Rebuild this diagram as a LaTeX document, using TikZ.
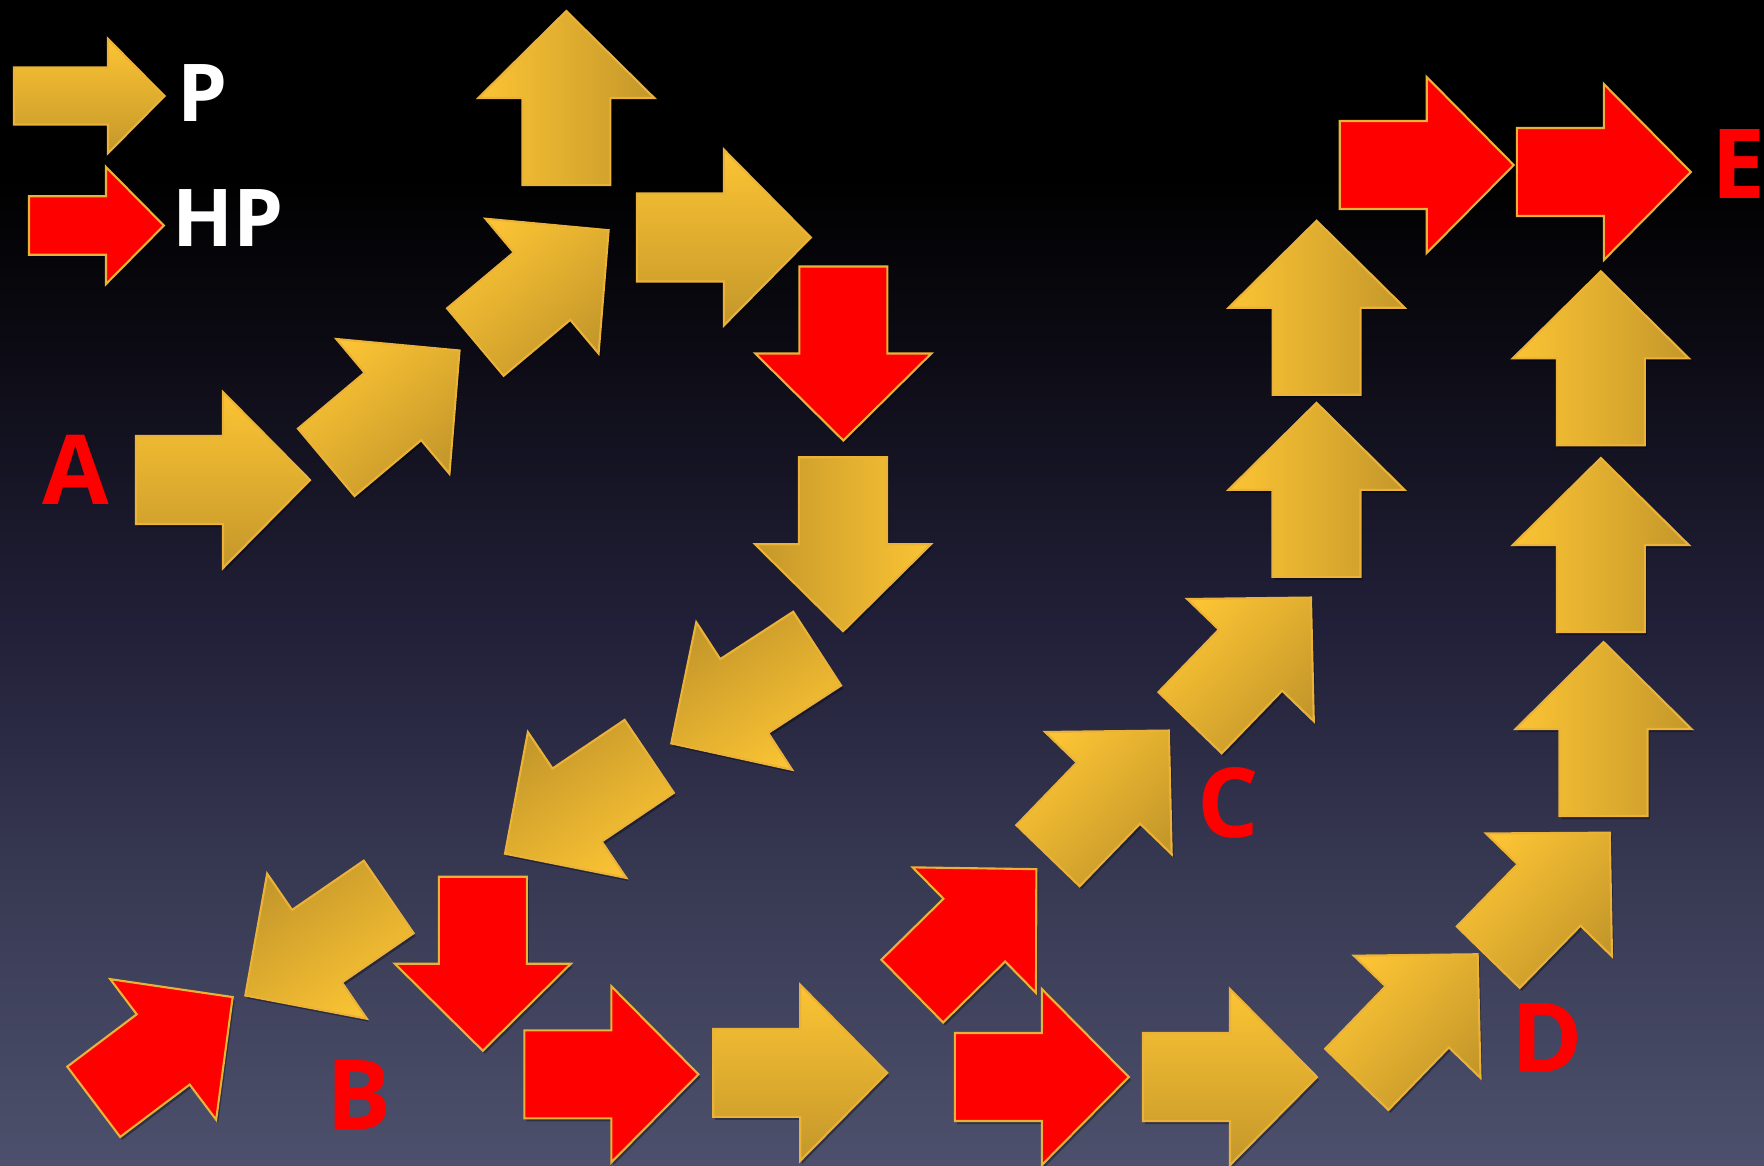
\documentclass[tikz,border=0pt]{standalone}
\usepackage{fontspec}
\newfontfamily\slidefont{Open Sans}
\usepackage{xcolor}
\definecolor{arGoldLight}{RGB}{252,196,52}
\definecolor{arGoldDark}{RGB}{196,151,42}
\definecolor{arGoldEdge}{RGB}{234,178,56}
\definecolor{arRed}{RGB}{255,0,0}
\definecolor{bgBottom}{RGB}{77,80,108}
\definecolor{bgLow}{RGB}{60,62,88}
\definecolor{bgMid}{RGB}{35,33,58}
\definecolor{bgDark}{RGB}{12,11,20}
\usepackage{tikz}
\usetikzlibrary{calc}

% slide background, black at the top
\pgfdeclareverticalshading{slidebg}{100bp}{color(0bp)=(bgBottom); color(25bp)=(bgBottom);
  color(35bp)=(bgLow); color(47.5bp)=(bgMid); color(60bp)=(bgDark); color(67.5bp)=(black);
  color(100bp)=(black)}

\tikzset{arrow tail/.store in=\arrtail, arrow tail=.87}

% #1 extra options, #2 style, #3 head base, #4 direction
\newcommand{\blockarrow}[4][]{%
  \begin{scope}[shift={#3},#1]
    \def\arrdir{#4}%
    \fill[black,opacity=.35,shift={(.02,-.03)},rotate=#4]
      (-\arrtail,-.44) -- (0,-.44) -- (0,-.88) -- (.87,0) -- (0,.88) -- (0,.44) -- (-\arrtail,.44) -- cycle;
    \path[#2,rotate=#4]
      (-\arrtail,-.44) -- (0,-.44) -- (0,-.88) -- (.87,0) -- (0,.88) -- (0,.44) -- (-\arrtail,.44) -- cycle;
  \end{scope}}

\begin{document}
\begin{tikzpicture}[
  goldarrow/.style={top color=arGoldLight,bottom color=arGoldDark,shading angle=\arrdir,
    draw=arGoldEdge,line width=.6pt},
  redarrow/.style={fill=arRed,draw=arGoldEdge,line width=.6pt},
  letter/.style={text=arRed,inner sep=0pt,font=\slidefont\bfseries\fontsize{27.5}{30}\selectfont},
  legendlbl/.style={text=white,inner sep=0pt,font=\slidefont\bfseries\fontsize{22.7}{26}\selectfont}]
  \useasboundingbox (0,0) rectangle (17.64,-11.65);
  \shade[shading=slidebg] (0,0) rectangle (17.64,-11.65);

  % legend
  \blockarrow[scale=.65,arrow tail=1.446]{goldarrow}{(1.08,-0.96)}{0}
  \blockarrow[scale=.665,arrow tail=1.158]{redarrow}{(1.06,-2.255)}{0}
  \node[legendlbl] (lblp) at (2.025,-0.935) {P};
  \node[legendlbl] (lblhp) at (2.28,-2.185) {HP};

  % from A round the top and down to B
  \blockarrow{goldarrow}{(2.23,-4.80)}{0}
  \blockarrow{goldarrow}{(3.929,-4.064)}{40}
  \blockarrow{goldarrow}{(5.42,-2.861)}{40}
  \blockarrow{goldarrow}{(5.663,-0.98)}{90}
  \blockarrow{goldarrow}{(7.238,-2.375)}{0}
  \blockarrow{redarrow}{(8.433,-3.535)}{-90}
  \blockarrow{goldarrow}{(8.43,-5.442)}{-90}
  \blockarrow{goldarrow}{(7.442,-6.96)}{213}
  \blockarrow{goldarrow}{(5.771,-8.05)}{214}
  \blockarrow{goldarrow}{(3.17,-9.462)}{214.5}
  \blockarrow{redarrow}{(1.632,-10.494)}{37}

  % bottom row
  \blockarrow{redarrow}{(4.828,-9.637)}{-90}
  \blockarrow{redarrow}{(6.114,-10.743)}{0}
  \blockarrow{goldarrow}{(8.002,-10.728)}{0}
  \blockarrow{redarrow}{(9.743,-9.301)}{44.5}
  \blockarrow{redarrow}{(10.418,-10.77)}{0}
  \blockarrow{goldarrow}{(12.30,-10.77)}{0}
  \blockarrow{goldarrow}{(14.172,-10.168)}{46}

  % up through C
  \blockarrow{goldarrow}{(11.084,-7.931)}{46}
  \blockarrow{goldarrow}{(12.505,-6.601)}{46}
  \blockarrow{goldarrow}{(13.165,-4.898)}{90}
  \blockarrow{goldarrow}{(13.166,-3.077)}{90}

  % up through D
  \blockarrow{goldarrow}{(15.49,-8.949)}{45.7}
  \blockarrow{goldarrow}{(16.035,-7.29)}{90}
  \blockarrow{goldarrow}{(16.008,-5.45)}{90}
  \blockarrow{goldarrow}{(16.008,-3.583)}{90}

  % on to E
  \blockarrow{redarrow}{(14.267,-1.65)}{0}
  \blockarrow{redarrow}{(16.038,-1.72)}{0}

  \node[letter] (ptA) at (0.759,-4.70) {A};
  \node[letter] (ptB) at (3.588,-10.947) {B};
  \node[letter] (ptC) at (12.278,-8.03) {C};
  \node[letter] (ptD) at (15.47,-10.384) {D};
  \node[letter] (ptE) at (17.385,-1.642) {E};
\end{tikzpicture}
\end{document}
